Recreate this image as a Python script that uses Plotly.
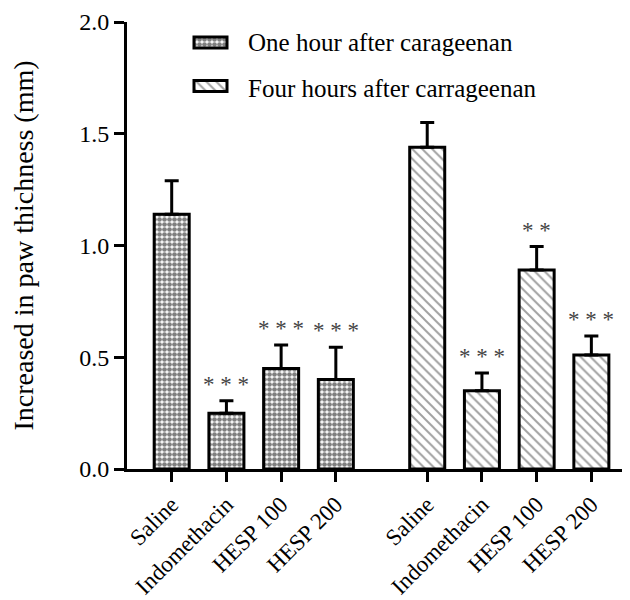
import plotly.graph_objects as go

# Group data
categories = ["Saline", "Indomethacin", "HESP 100", "HESP 200"]
one_hour = [1.14, 0.25, 0.45, 0.40]
one_hour_err = [0.15, 0.055, 0.105, 0.145]
four_hours = [1.44, 0.35, 0.89, 0.51]
four_hours_err = [0.11, 0.08, 0.105, 0.085]
one_hour_sig = ["", "* * *", "* * *", "* * *"]
four_hours_sig = ["", "* * *", "* *", "* * *"]

series_names = ["One hour after carageenan", "Four hours after carrageenan"]

pos1 = [0, 1, 2, 3]
pos2 = [4.67, 5.67, 6.67, 7.67]

FONT = "Liberation Serif"

check = dict(shape=".", fgcolor="black", bgcolor="white", size=5, solidity=0.7)
hatch = dict(shape="\\", fgcolor="#444444", bgcolor="white", size=7, solidity=0.28)

fig = go.Figure()

fig.add_trace(go.Bar(
    x=pos1, y=one_hour, width=0.64, name=series_names[0], showlegend=False,
    marker=dict(color="white", line=dict(color="black", width=3), pattern=check),
    error_y=dict(type="data", symmetric=False, array=one_hour_err,
                 arrayminus=[0] * len(one_hour), color="black",
                 thickness=3, width=7),
))
fig.add_trace(go.Bar(
    x=pos2, y=four_hours, width=0.64, name=series_names[1], showlegend=False,
    marker=dict(color="white", line=dict(color="black", width=3), pattern=hatch),
    error_y=dict(type="data", symmetric=False, array=four_hours_err,
                 arrayminus=[0] * len(four_hours), color="black",
                 thickness=3, width=7),
))

# Significance markers above the error bars
for xs, vals, errs, sig in [(pos1, one_hour, one_hour_err, one_hour_sig),
                            (pos2, four_hours, four_hours_err, four_hours_sig)]:
    for x, v, e, s in zip(xs, vals, errs, sig):
        if s:
            fig.add_annotation(x=x, y=v + e, text=s, showarrow=False,
                               yanchor="bottom", yshift=2,
                               font=dict(family=FONT, size=23, color="#444444"))

# Legend drawn on a hidden pixel-scaled overlay so the swatches are wide boxes
legend_rows = [(42.5, 42, check), (86, 88, hatch)]
for (yc, yt, pat), label in zip(legend_rows, series_names):
    fig.add_trace(go.Bar(
        x=[210.5], y=[11], base=[yc - 5.5], width=[33], xaxis="x2", yaxis="y2",
        showlegend=False, hoverinfo="skip",
        marker=dict(color="white", line=dict(color="black", width=3), pattern=pat),
    ))
    fig.add_annotation(x=246, y=yt, xref="x2", yref="y2", text=label,
                       showarrow=False, xanchor="left", yanchor="middle",
                       font=dict(family=FONT, size=25, color="black"))

fig.update_layout(
    width=630, height=600,
    margin=dict(l=127, r=8, t=22, b=131),
    plot_bgcolor="white", paper_bgcolor="white",
    font=dict(family=FONT, size=18, color="black"),
    showlegend=False,
    barmode="overlay",
    xaxis=dict(
        range=[-0.817, 8.23], automargin=False,
        tickmode="array", tickvals=pos1 + pos2, ticktext=categories + categories,
        tickangle=-45, ticks="outside", ticklen=10, tickwidth=3, tickcolor="black",
        showline=True, linecolor="black", linewidth=3, showgrid=False,
        zeroline=False, tickfont=dict(family=FONT, size=23),
    ),
    yaxis=dict(
        range=[0, 2.0], automargin=False,
        tickmode="array", tickvals=[0, 0.5, 1.0, 1.5, 2.0],
        ticktext=["0.0", "0.5", "1.0", "1.5", "2.0"],
        ticks="outside", ticklen=10, tickwidth=3, tickcolor="black",
        showline=True, linecolor="black", linewidth=3, showgrid=False,
        zeroline=False, tickfont=dict(family=FONT, size=24),
        title=dict(text="Increased in paw thichness (mm)",
                   font=dict(family=FONT, size=28), standoff=38),
    ),
    xaxis2=dict(range=[127, 622], overlaying="x", visible=False, anchor="y2"),
    yaxis2=dict(range=[469, 22], overlaying="y", visible=False, anchor="x2"),
)

fig.write_html("out.html")
